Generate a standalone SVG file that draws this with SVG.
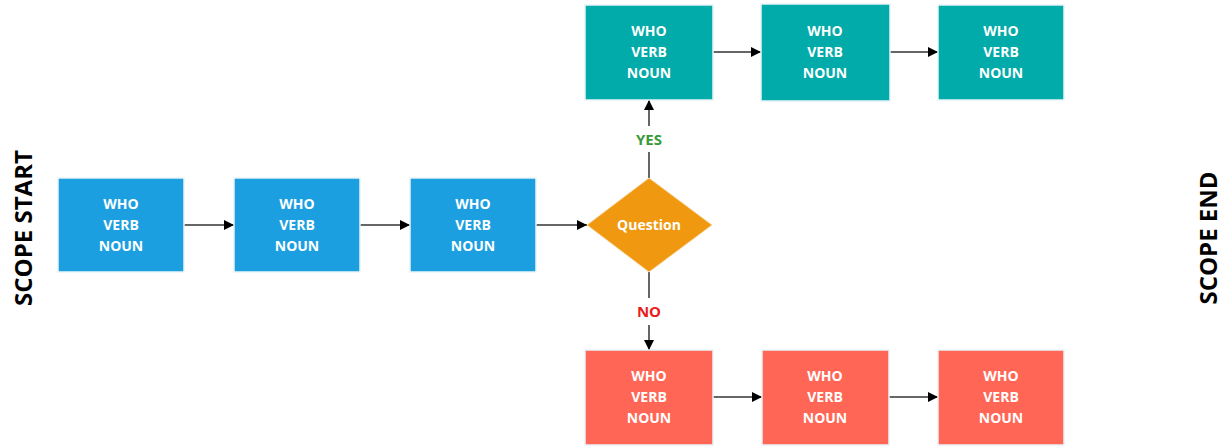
<svg xmlns="http://www.w3.org/2000/svg" width="1226" height="446" viewBox="0 0 1226 446">
<defs>
<marker id="ah" viewBox="0 0 10 10" refX="10" refY="5" markerWidth="10" markerHeight="10" markerUnits="userSpaceOnUse" orient="auto">
<path d="M0,0 L10,5 L0,10 Z" fill="#000"/>
</marker>
<style>
.box{stroke:#e8f4f8;stroke-width:1.5}
.blue{fill:#1c9fe0}
.teal{fill:#00aba9}
.red{fill:#ff6655}
.t{font-family:"Open Sans",sans-serif;font-weight:bold;font-size:14px;fill:#fff;text-anchor:middle}
.c{stroke:#333;stroke-width:1.5;fill:none}
.ca{stroke:#333;stroke-width:1.5;fill:none;marker-end:url(#ah)}
.side{font-family:"Open Sans",sans-serif;font-weight:bold;font-size:24px;fill:#000;text-anchor:middle}
.lbl{font-family:"Open Sans",sans-serif;font-weight:bold;font-size:15px;text-anchor:middle}
</style>
</defs>
<rect width="1226" height="446" fill="#fff"/>
<g id="connectors">
<line class="ca" x1="184" y1="225" x2="234" y2="225"/>
<line class="ca" x1="360" y1="225" x2="410" y2="225"/>
<line class="ca" x1="536" y1="225" x2="587" y2="225"/>
<line class="c" x1="649" y1="178" x2="649" y2="152"/>
<line class="ca" x1="649" y1="126" x2="649" y2="100"/>
<line class="c" x1="649" y1="272" x2="649" y2="298"/>
<line class="ca" x1="649" y1="325" x2="649" y2="350"/>
<line class="ca" x1="713" y1="52" x2="761" y2="52"/>
<line class="ca" x1="890" y1="52" x2="938" y2="52"/>
<line class="ca" x1="713" y1="397" x2="762" y2="397"/>
<line class="ca" x1="889" y1="397" x2="938" y2="397"/>
<text class="lbl" x="649" y="145" fill="#3a9a3a">YES</text>
<text class="lbl" x="649" y="317" fill="#e8201a">NO</text>
</g>
<g id="scope-start"><text class="side" transform="translate(32,228) rotate(-90)">SCOPE START</text></g>
<g id="scope-end"><text class="side" transform="translate(1217,238) rotate(-90)">SCOPE END</text></g>
<g id="b1"><rect class="box blue" x="58" y="178" width="126" height="94"/><text class="t" x="121" y="209">WHO</text><text class="t" x="121" y="230">VERB</text><text class="t" x="121" y="251">NOUN</text></g>
<g id="b2"><rect class="box blue" x="234" y="178" width="126" height="94"/><text class="t" x="297" y="209">WHO</text><text class="t" x="297" y="230">VERB</text><text class="t" x="297" y="251">NOUN</text></g>
<g id="b3"><rect class="box blue" x="410" y="178" width="126" height="94"/><text class="t" x="473" y="209">WHO</text><text class="t" x="473" y="230">VERB</text><text class="t" x="473" y="251">NOUN</text></g>
<g id="q"><polygon points="649,178 712,225 649,272 587,225" fill="#f0980f" stroke="#f8d9a8" stroke-width="1"/><text class="t" x="649" y="230">Question</text></g>
<g id="t1"><rect class="box teal" x="585" y="5" width="128" height="95"/><text class="t" x="649" y="36">WHO</text><text class="t" x="649" y="57">VERB</text><text class="t" x="649" y="78">NOUN</text></g>
<g id="t2"><rect class="box teal" x="761" y="4" width="129" height="97"/><text class="t" x="825" y="36">WHO</text><text class="t" x="825" y="57">VERB</text><text class="t" x="825" y="78">NOUN</text></g>
<g id="t3"><rect class="box teal" x="938" y="5" width="126" height="95"/><text class="t" x="1001" y="36">WHO</text><text class="t" x="1001" y="57">VERB</text><text class="t" x="1001" y="78">NOUN</text></g>
<g id="r1"><rect class="box red" x="585" y="350" width="128" height="95"/><text class="t" x="649" y="381">WHO</text><text class="t" x="649" y="402">VERB</text><text class="t" x="649" y="423">NOUN</text></g>
<g id="r2"><rect class="box red" x="762" y="350" width="127" height="95"/><text class="t" x="825" y="381">WHO</text><text class="t" x="825" y="402">VERB</text><text class="t" x="825" y="423">NOUN</text></g>
<g id="r3"><rect class="box red" x="938" y="350" width="126" height="95"/><text class="t" x="1001" y="381">WHO</text><text class="t" x="1001" y="402">VERB</text><text class="t" x="1001" y="423">NOUN</text></g>
</svg>
